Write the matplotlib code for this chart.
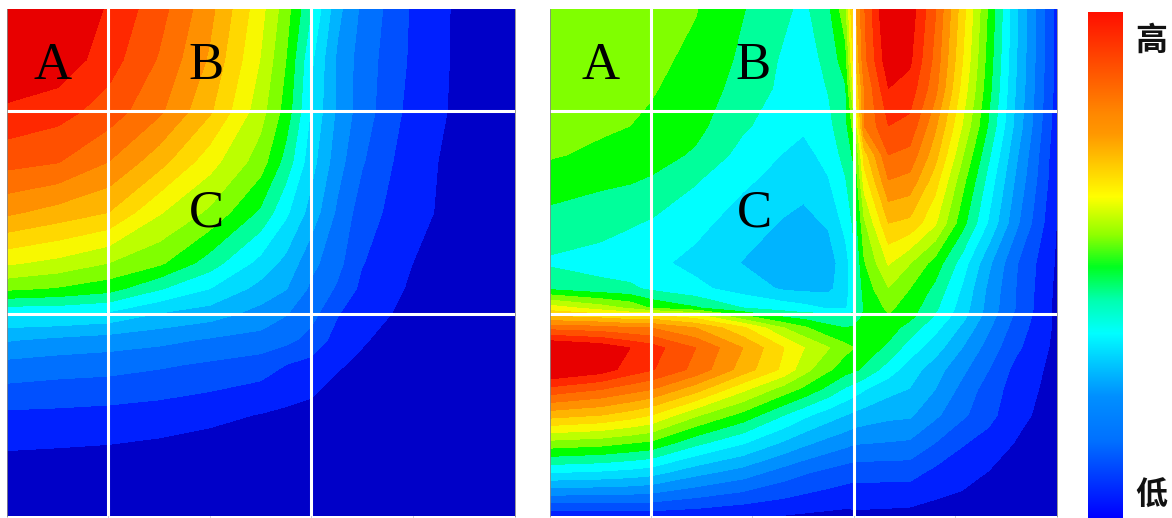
import numpy as np
import matplotlib
matplotlib.use('Agg')
import matplotlib.pyplot as plt
from matplotlib.colors import LinearSegmentedColormap

# band colours, low to high
band_colors = ['#0000C8', '#0020FF', '#0050FF', '#0070FF', '#0090FF', '#00B4FF', '#00DCFF', '#00FFFF',
               '#00FF9B', '#00FF00', '#80FF00', '#BCFF00', '#F8F800', '#FFD800', '#FFB400', '#FF9000',
               '#FF7000', '#FF5000', '#FF2800', '#E80000']
band_levels = [-1, 1, 2, 3, 4, 5, 6, 7, 8, 9, 10, 11, 12, 13, 14, 15, 16, 17, 18, 19, 25]

# left panel
left_x = [22, 172, 322, 472, 622, 772, 847, 922, 1000, 1072, 1222, 1372, 1525]
left_y = [27, 180, 334, 486, 638, 790, 867, 944, 1020, 1095, 1247, 1400, 1550]
left_z = [
    [20.6, 20.3, 18.85, 17.4, 15.3, 12.35, 10.45, 8.0, 5.3, 3.8, 1.85, 0.7, 0.4],
    [20.0, 19.7, 18.45, 16.9, 14.85, 11.95, 10.0, 7.2, 4.8, 3.55, 1.8, 0.7, 0.4],
    [18.8, 18.4, 17.55, 16.2, 14.15, 11.4, 9.6, 6.9, 4.8, 3.5, 1.6, 0.72, 0.4],
    [17.35, 17.05, 16.0, 14.4, 12.4, 10.5, 8.6, 6.4, 4.4, 3.1, 1.3, 0.7, 0.35],
    [15.2, 14.6, 14.0, 12.1, 10.8, 8.8, 7.2, 5.6, 3.8, 2.5, 1.25, 0.65, 0.3],
    [12.15, 11.7, 11.0, 10.2, 8.5, 6.65, 5.7, 4.3, 3.3, 2.05, 1.0, 0.55, 0.25],
    [10.2, 9.9, 9.4, 8.1, 7.0, 5.65, 5.05, 3.8, 2.85, 1.75, 0.85, 0.5, 0.25],
    [7.0, 7.0, 6.75, 5.9, 5.45, 4.6, 4.05, 3.35, 2.05, 1.4, 0.7, 0.45, 0.2],
    [5.1, 4.8, 4.55, 4.3, 3.9, 3.65, 3.3, 2.65, 1.6, 1.08, 0.55, 0.35, 0.2],
    [3.7, 3.5, 3.4, 3.15, 2.85, 2.5, 2.0, 1.7, 1.08, 0.85, 0.5, 0.3, 0.15],
    [1.8, 1.75, 1.65, 1.5, 1.25, 0.95, 0.8, 0.65, 0.5, 0.4, 0.3, 0.2, 0.1],
    [0.65, 0.58, 0.52, 0.38, 0.24, 0.2, 0.2, 0.2, 0.2, 0.2, 0.2, 0.15, 0.1],
    [0.4, 0.4, 0.35, 0.3, 0.2, 0.2, 0.2, 0.2, 0.2, 0.15, 0.1, 0.1, 0.05],
]

# right panel
right_x = [28, 178, 265, 328, 460, 600, 722, 780, 854, 905, 930, 960, 1032, 1095, 1170, 1250, 1330, 1410, 1532]
right_y = [27, 180, 265, 378, 465, 540, 670, 790, 867, 925, 950, 985, 1045, 1110, 1170, 1247, 1330, 1420, 1550]
right_z = [
    [10.7, 10.6, 10.45, 10.35, 10.05, 9.05, 8.2, 7.75, 8.8, 10.7, 14.5, 16.9, 20.3, 19.6, 17.1, 13.5, 9.8, 6.2, 1.55],
    [10.6, 10.5, 10.35, 10.25, 9.75, 8.8, 7.85, 7.55, 8.25, 9.6, 13.5, 16.7, 19.7, 19.2, 16.7, 13.1, 9.5, 6.1, 1.6],
    [10.45, 10.3, 10.2, 10.1, 9.5, 8.65, 7.75, 7.4, 8.05, 8.9, 12.5, 16.0, 19.0, 18.6, 16.35, 12.7, 9.3, 5.95, 1.6],
    [10.25, 10.15, 10.0, 9.8, 9.3, 8.15, 7.45, 7.15, 7.75, 8.7, 10.5, 16.0, 18.0, 17.7, 15.2, 12.0, 8.85, 5.7, 1.4],
    [10.1, 9.8, 9.55, 9.45, 8.85, 7.65, 6.95, 6.7, 7.3, 8.4, 9.2, 13.5, 17.0, 16.7, 14.4, 11.15, 8.15, 5.2, 1.25],
    [9.55, 9.2, 9.1, 8.9, 8.1, 7.2, 6.6, 6.3, 6.95, 7.95, 8.8, 12.5, 16.0, 15.7, 13.5, 10.4, 7.6, 4.85, 1.2],
    [8.6, 8.4, 8.1, 7.9, 7.3, 6.5, 5.9, 5.75, 6.1, 7.35, 8.2, 10.8, 14.0, 13.75, 12.15, 9.4, 6.85, 4.25, 0.95],
    [7.85, 7.55, 7.35, 7.25, 6.7, 5.95, 5.6, 5.5, 5.55, 6.55, 7.8, 9.9, 12.1, 11.05, 9.6, 7.55, 5.2, 3.1, 0.85],
    [8.8, 8.35, 8.2, 7.8, 7.25, 6.55, 5.85, 5.75, 5.75, 6.6, 7.6, 9.4, 10.95, 10.0, 8.75, 6.9, 4.75, 3.0, 0.75],
    [12.5, 11.5, 10.8, 9.9, 9.1, 8.0, 7.55, 7.3, 6.9, 6.9, 7.6, 9.1, 10.2, 9.5, 8.2, 6.55, 4.6, 2.95, 0.7],
    [14.0, 13.6, 13.2, 13.3, 12.5, 10.2, 8.8, 8.55, 8.5, 8.0, 8.5, 9.1, 9.9, 9.3, 7.9, 6.35, 4.45, 2.8, 0.7],
    [16.65, 16.4, 16.1, 16.0, 15.0, 13.2, 11.0, 10.2, 9.2, 9.0, 9.1, 9.2, 9.5, 8.55, 7.3, 5.8, 4.1, 2.55, 0.75],
    [20.3, 19.7, 19.0, 18.45, 17.0, 15.0, 13.0, 12.05, 11.05, 10.3, 10.0, 9.6, 8.75, 7.5, 6.45, 5.0, 3.55, 2.2, 0.7],
    [20.2, 19.5, 18.6, 18.1, 16.7, 14.55, 12.75, 11.4, 10.15, 9.4, 9.2, 8.8, 7.5, 6.5, 5.45, 4.25, 3.0, 1.7, 0.65],
    [17.65, 17.0, 16.4, 16.0, 14.4, 12.2, 10.5, 9.75, 8.65, 7.8, 7.5, 7.05, 6.3, 5.95, 5.0, 3.7, 2.5, 1.55, 0.55],
    [14.4, 14.0, 13.5, 13.0, 11.15, 9.65, 8.0, 7.25, 6.45, 6.0, 5.75, 5.55, 5.25, 5.15, 4.2, 3.2, 2.3, 1.3, 0.5],
    [10.65, 10.4, 10.05, 9.8, 8.3, 7.1, 5.85, 5.25, 4.65, 4.3, 4.1, 4.05, 3.95, 3.85, 3.0, 2.1, 1.6, 0.95, 0.35],
    [7.0, 6.8, 6.6, 6.35, 5.3, 4.5, 3.5, 3.1, 2.7, 2.45, 2.35, 2.35, 2.35, 2.35, 1.73, 1.38, 0.95, 0.65, 0.25],
    [1.2, 1.3, 1.35, 1.4, 1.3, 1.05, 0.95, 0.85, 0.75, 0.7, 0.75, 0.75, 0.7, 0.65, 0.55, 0.45, 0.3, 0.2, 0.1],
]

# white block lines
left_vlines = [322, 922]
right_vlines = [328, 930]
hlines = [334, 944]
left_ticks = [22, 322, 622, 922, 1222, 1525]
right_ticks = [28, 328, 628, 930, 1230, 1532]

panel_labels = ['A', 'B', 'C']
left_label_x = [157, 610, 613]
right_label_x = [178, 630, 633]
label_y = [199, 199, 641]

# colour bar stops
bar_pos = [0.0, 0.15, 0.24, 0.305, 0.365, 0.43, 0.496, 0.56, 0.635, 0.76, 0.80, 1.0]
bar_colors = ['#0000FF', '#0070FF', '#0090FF', '#00C8FF', '#00FFFF', '#00FFB0', '#00FF20',
              '#90FF00', '#FFFF00', '#FF9800', '#FF8800', '#FF1000']
bar_cmap = LinearSegmentedColormap.from_list('bar', list(zip(bar_pos, bar_colors)))

W, H = 1172, 518
fig = plt.figure(figsize=(W / 100, H / 100), dpi=100)


def add_axes_px(x0, y0, x1, y1):
    return fig.add_axes([x0 / W, 1 - y1 / H, (x1 - x0) / W, (y1 - y0) / H])


def draw_panel(box, xs, ys, zs, vlines, ticks, label_x):
    ax = add_axes_px(*box)
    ax.contourf(xs, ys, np.array(zs), levels=band_levels, colors=band_colors, antialiased=False)
    ax.set_xlim(xs[0], xs[-1])
    ax.set_ylim(ys[-1], ys[0])
    for v in vlines:
        ax.axvline(v, color='white', lw=2.2)
    for h in hlines:
        ax.axhline(h, color='white', lw=2.2)
    ax.set_xticks(ticks)
    ax.set_xticklabels([])
    ax.set_yticks([])
    ax.tick_params(axis='x', length=1, width=0.5, color='#888888')
    ax.spines['top'].set_visible(False)
    ax.spines['bottom'].set_visible(False)
    ax.spines['left'].set_color('#888888')
    ax.spines['right'].set_color('#888888')
    ax.spines['left'].set_linewidth(0.6)
    ax.spines['right'].set_linewidth(0.6)
    for name, lx, ly in zip(panel_labels, label_x, label_y):
        ax.text(lx, ly, name, family='Liberation Serif', fontsize=38, color='black', ha='center', va='center')


draw_panel((7, 9, 515, 516), left_x, left_y, left_z, left_vlines, left_ticks, left_label_x)
draw_panel((550, 9, 1057, 516), right_x, right_y, right_z, right_vlines, right_ticks, right_label_x)

# colour bar
cax = add_axes_px(1088, 12, 1123, 518)
cax.imshow(np.linspace(1, 0, 256).reshape(-1, 1), cmap=bar_cmap, aspect='auto')
cax.axis('off')

fig.text(1151 / W, 1 - 41 / H, '高', family='Noto Sans CJK SC', fontweight='bold', fontsize=23, ha='center', va='center', color='#111111')
fig.text(1151 / W, 1 - 496 / H, '低', family='Noto Sans CJK SC', fontweight='bold', fontsize=23, ha='center', va='center', color='#111111')

plt.savefig('out.png', dpi=100)
